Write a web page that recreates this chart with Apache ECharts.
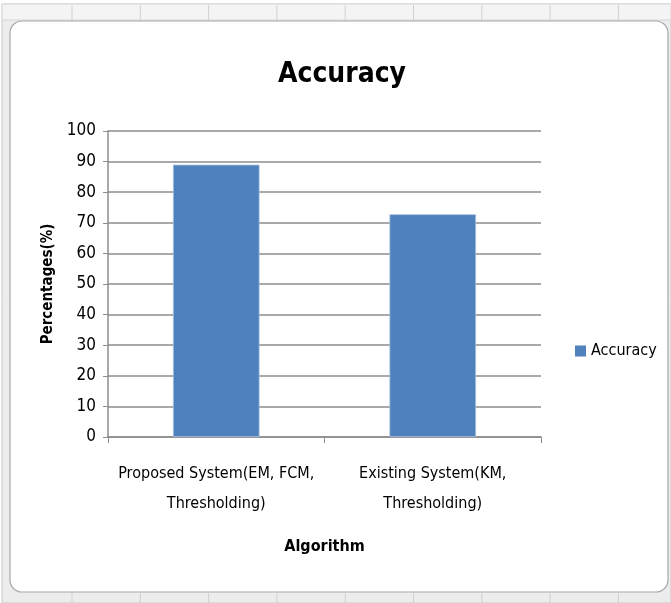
<!DOCTYPE html>
<html><head><meta charset="utf-8">
<script src="https://cdn.jsdelivr.net/npm/echarts@6/dist/echarts.min.js"></script>
<style>html,body{margin:0;padding:0;background:#fff}#c{width:671px;height:603px}</style>
</head><body><div id="c"></div>
<script>
const categories = ['Proposed System(EM, FCM,\nThresholding)', 'Existing System(KM,\nThresholding)'];
const accuracy = [89, 72.8];
const seriesName = 'Accuracy';
const FONT = '"Liberation Sans Narrow","DejaVu Sans Condensed","Open Sans",sans-serif';

const chart = echarts.init(document.getElementById('c'), null, {renderer:'canvas'});
const rulerTicks = [];
for (let x = 72; x < 671; x += 68.3) {
  rulerTicks.push({type:'line', shape:{x1:x,y1:5,x2:x,y2:20}, style:{stroke:'#d0d0d0',lineWidth:1}, silent:true});
  rulerTicks.push({type:'line', shape:{x1:x,y1:593,x2:x,y2:603}, style:{stroke:'#d0d0d0',lineWidth:1}, silent:true});
}
chart.setOption({
  animation:false,
  graphic:[
    {type:'rect', shape:{x:2,y:4,width:669,height:599}, style:{fill:'#ececec',stroke:'#c8c8c8'}, z:-10, silent:true},
    {type:'rect', shape:{x:2,y:4,width:669,height:16}, style:{fill:'#f4f4f4',stroke:'#d6d6d6'}, z:-9, silent:true},
    {type:'rect', shape:{x:10,y:21,width:658,height:571,r:12}, style:{fill:'#ffffff',stroke:'#a8a8a8',lineWidth:1.2}, z:-8, silent:true},
    ...rulerTicks.map(t=>Object.assign(t,{z:-7}))
  ],
  title:{text:'Accuracy', left:337, top:56, textAlign:'center',
    textStyle:{fontFamily:FONT, fontSize:28, fontWeight:'bold', color:'#000'}},
  legend:{data:[seriesName], left:570, top:338, itemWidth:11, itemHeight:11, itemGap:4,
    icon:'rect', itemStyle:{borderWidth:0},
    textStyle:{fontFamily:FONT, fontSize:16, color:'#000'}},
  grid:{left:108, right:130, top:131, bottom:166, containLabel:false},
  xAxis:{type:'category', data:categories, name:'Algorithm', nameLocation:'middle', nameGap:102,
    nameTextStyle:{fontFamily:FONT, fontSize:16, fontWeight:'bold', color:'#000'},
    axisLine:{lineStyle:{color:'#8c8c8c', width:1.5}},
    axisTick:{show:true, alignWithLabel:false, length:6, lineStyle:{color:'#8c8c8c'}},
    axisLabel:{interval:0, fontFamily:FONT, fontSize:16, color:'#000', lineHeight:30, margin:22}},
  yAxis:{type:'value', min:0, max:100, interval:10, name:'Percentages(%)', nameLocation:'middle', nameGap:52,
    nameTextStyle:{fontFamily:FONT, fontSize:15, fontWeight:'bold', color:'#000'},
    axisLine:{show:true, lineStyle:{color:'#8c8c8c', width:1.5}},
    axisTick:{show:true, length:5, lineStyle:{color:'#8c8c8c'}},
    splitLine:{lineStyle:{color:'#8c8c8c', width:1.5}},
    axisLabel:{fontFamily:FONT, fontSize:17, color:'#000', margin:12}},
  series:[{name:seriesName, type:'bar', data:accuracy, barWidth:'40%',
    itemStyle:{color:'#4f81bd', borderColor:'#a8c0e0', borderWidth:0.8}}]
});
</script></body></html>
